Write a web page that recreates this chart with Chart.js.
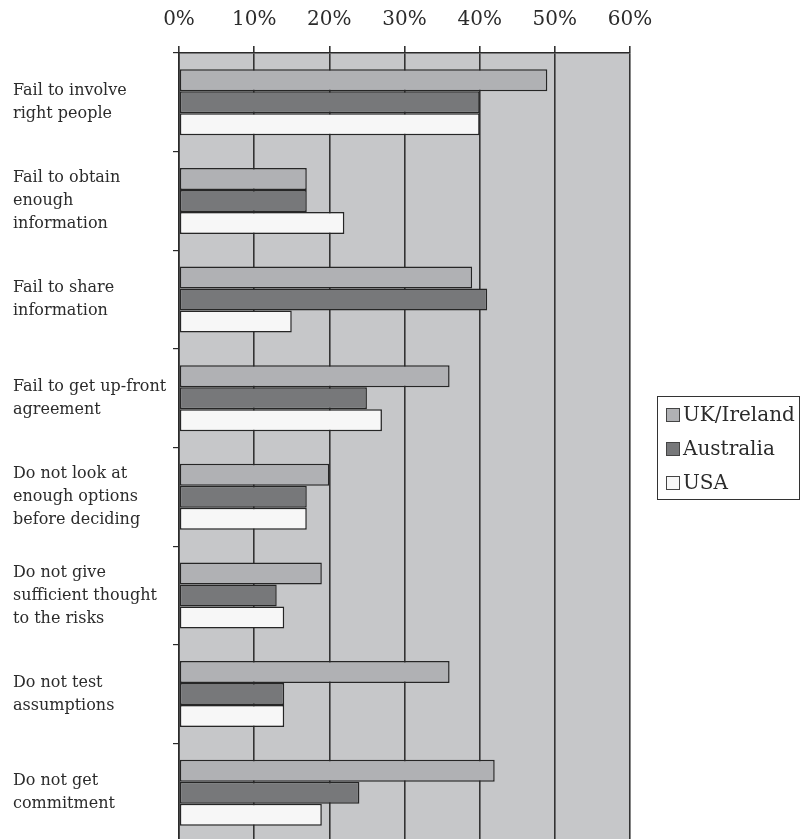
<!DOCTYPE html>
<html>
<head>
<meta charset="utf-8">
<script src="https://cdn.jsdelivr.net/npm/chart.js@4.4.1/dist/chart.umd.min.js"></script>
<style>
  html, body { margin: 0; padding: 0; background: #ffffff; overflow: hidden; }
  #wrap { width: 804px; height: 842px; }
</style>
</head>
<body>
<div id="wrap"><canvas id="c" width="804" height="842"></canvas></div>
<script>
// Reasons decisions fail, by region (% of respondents)
const categories = [
  ['Fail to involve', 'right people'],
  ['Fail to obtain', 'enough', 'information'],
  ['Fail to share', 'information'],
  ['Fail to get up-front', 'agreement'],
  ['Do not look at', 'enough options', 'before deciding'],
  ['Do not give', 'sufficient thought', 'to the risks'],
  ['Do not test', 'assumptions'],
  ['Do not get', 'commitment']
];
const ukIreland = [49, 17, 39, 36, 20, 19, 36, 42];
const australia = [40, 17, 41, 25, 17, 13, 14, 24];
const usa       = [40, 22, 15, 27, 17, 14, 14, 19];
const xTicks    = [0, 10, 20, 30, 40, 50, 60];

const FONT = '"DejaVu Serif", "Liberation Serif", serif';
const INK = '#2b2b2b';

// Grey plot background behind the bars
const plotBackground = {
  id: 'plotBackground',
  beforeDraw(chart) {
    const { ctx, chartArea: a } = chart;
    ctx.save();
    ctx.fillStyle = '#c6c7c9';
    ctx.fillRect(a.left, a.top, a.right - a.left, a.bottom - a.top);
    ctx.restore();
  }
};

// Boxed legend on the right
const boxedLegend = {
  id: 'boxedLegend',
  afterDraw(chart) {
    const { ctx } = chart;
    const box = { x: 657.5, y: 396.5, w: 142, h: 103 };
    ctx.save();
    ctx.strokeStyle = '#333333';
    ctx.lineWidth = 1;
    ctx.strokeRect(box.x, box.y, box.w, box.h);
    ctx.font = '20px ' + FONT;
    ctx.textBaseline = 'middle';
    ctx.textAlign = 'left';
    const rows = [415, 449, 483];
    chart.data.datasets.forEach((ds, i) => {
      const cy = rows[i];
      ctx.fillStyle = ds.backgroundColor;
      ctx.fillRect(666, cy - 7, 13, 13);
      ctx.strokeStyle = '#444444';
      ctx.strokeRect(666.5, cy - 6.5, 13, 13);
      ctx.fillStyle = INK;
      ctx.fillText(ds.label, 683, cy + 1);
    });
    ctx.restore();
  }
};

new Chart(document.getElementById('c'), {
  type: 'bar',
  data: {
    labels: categories,
    datasets: [
      { label: 'UK/Ireland', data: ukIreland, backgroundColor: '#b0b1b4' },
      { label: 'Australia',  data: australia, backgroundColor: '#77787a' },
      { label: 'USA',        data: usa,       backgroundColor: '#f7f7f7' }
    ]
  },
  options: {
    indexAxis: 'y',
    responsive: false,
    devicePixelRatio: 1,
    animation: false,
    layout: { padding: { left: 13, right: 174, top: 0, bottom: 0 } },
    datasets: {
      bar: {
        categoryPercentage: 0.67,
        barPercentage: 1.0,
        borderColor: '#262626',
        borderWidth: 1.5,
        borderSkipped: false
      }
    },
    plugins: {
      legend: { display: false },
      tooltip: { enabled: false }
    },
    scales: {
      x: {
        position: 'top',
        min: 0,
        max: 60,
        afterBuildTicks(scale) { scale.ticks = xTicks.map(v => ({ value: v })); },
        afterFit(scale) {
          scale.height = 53;
          scale.paddingLeft = 0;
          scale.paddingRight = 0;
        },
        border: { display: true, color: '#2a2a2a', width: 1.5 },
        grid: {
          display: true,
          drawOnChartArea: true,
          drawTicks: true,
          tickLength: 7,
          color: '#333333',
          lineWidth: 1.6
        },
        ticks: {
          color: INK,
          font: { family: FONT, size: 20 },
          padding: 14,
          maxRotation: 0,
          callback: v => v + '%'
        }
      },
      y: {
        position: 'left',
        afterFit(scale) {
          scale.width = 166;
          scale.paddingTop = 0;
          scale.paddingBottom = 0;
        },
        border: { display: true, color: '#2a2a2a', width: 1.5 },
        grid: {
          display: true,
          offset: true,
          drawOnChartArea: false,
          drawTicks: true,
          tickLength: 6,
          color: '#2a2a2a',
          lineWidth: 1.2
        },
        ticks: {
          color: INK,
          crossAlign: 'far',
          font: { family: FONT, size: 16, lineHeight: 1.44 },
          padding: 8
        }
      }
    }
  },
  plugins: [plotBackground, boxedLegend]
});
</script>
</body>
</html>
